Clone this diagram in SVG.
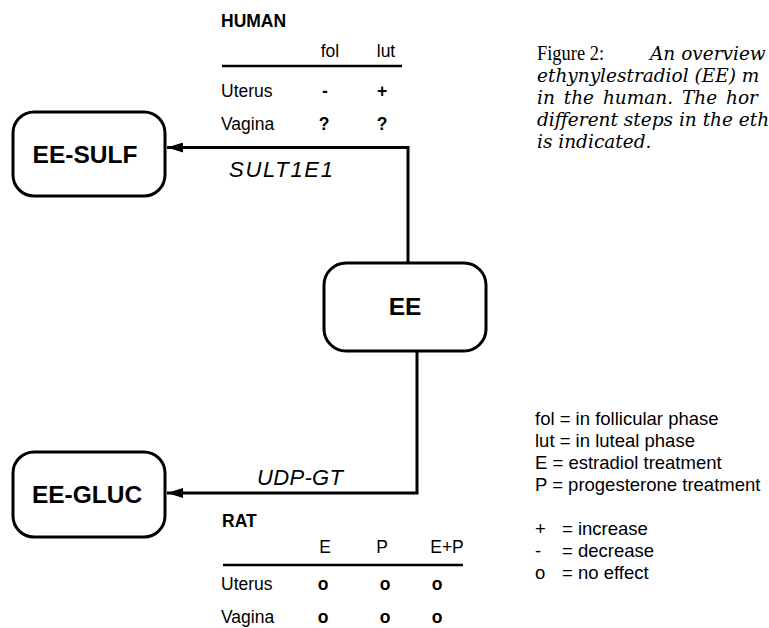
<svg xmlns="http://www.w3.org/2000/svg" width="769" height="628" viewBox="0 0 769 628">
<style>
.box{fill:#fff;stroke:#000;stroke-width:3}
.nl{font-family:"Liberation Sans",Arial,sans-serif;font-weight:bold;font-size:24.5px;text-anchor:middle}
.con{fill:none;stroke:#000;stroke-width:3}
.el{font-family:"Liberation Sans",Arial,sans-serif;font-style:italic;font-size:22px}
.t{font-family:"Liberation Sans",Arial,sans-serif;font-size:17.5px}
.tb{font-family:"Liberation Sans",Arial,sans-serif;font-size:17.5px;font-weight:bold}
.c{text-anchor:middle}
.cap{font-family:"DejaVu Serif","Liberation Serif",serif;font-size:18.5px;font-style:italic}
.capr{font-family:"Liberation Serif",serif;font-size:20px;font-style:normal}
.lg{font-family:"Liberation Sans",Arial,sans-serif;font-size:18.5px}
</style>
<defs>
<marker id="ah" markerUnits="userSpaceOnUse" markerWidth="17" markerHeight="10" refX="16" refY="5" orient="auto">
<path d="M0,0 L16,5 L0,10 Z" fill="#000"/>
</marker>
</defs>
<rect width="769" height="628" fill="#fff"/>
<g id="connectors">
<polyline class="con" points="408,263 408,147.5 167,147.5" marker-end="url(#ah)"/>
<polyline class="con" points="417,351 417,493 167,493" marker-end="url(#ah)"/>
<text class="el" x="229" y="177" textLength="104" lengthAdjust="spacing">SULT1E1</text>
<text class="el" x="257" y="485" textLength="86" lengthAdjust="spacing">UDP-GT</text>
</g>
<g id="ee-sulf">
<rect class="box" x="13" y="112" width="152" height="84" rx="21"/>
<text class="nl" x="85" y="163">EE-SULF</text>
</g>
<g id="ee">
<rect class="box" x="324" y="263" width="162" height="88" rx="22"/>
<text class="nl" x="405" y="315">EE</text>
</g>
<g id="ee-gluc">
<rect class="box" x="13" y="452" width="152" height="85" rx="21"/>
<text class="nl" x="87" y="503">EE-GLUC</text>
</g>
<g id="human-table">
<text class="tb" x="221" y="27">HUMAN</text>
<text class="t c" x="330" y="57">fol</text>
<text class="t c" x="386" y="57">lut</text>
<line x1="222" y1="66" x2="402" y2="66" stroke="#000" stroke-width="2.5"/>
<text class="t" x="221" y="97">Uterus</text>
<text class="tb c" x="325" y="97">-</text>
<text class="tb c" x="382" y="97">+</text>
<text class="t" x="221" y="130">Vagina</text>
<text class="tb c" x="324" y="130">?</text>
<text class="tb c" x="382" y="130">?</text>
</g>
<g id="rat-table">
<text class="tb" x="222" y="527">RAT</text>
<text class="t c" x="325" y="553">E</text>
<text class="t c" x="382" y="553">P</text>
<text class="t c" x="447" y="553">E+P</text>
<line x1="223" y1="565" x2="463" y2="565" stroke="#000" stroke-width="2.5"/>
<text class="t" x="221" y="590">Uterus</text>
<text class="tb c" x="323" y="590">o</text>
<text class="tb c" x="385" y="590">o</text>
<text class="tb c" x="437" y="590">o</text>
<text class="t" x="221" y="623">Vagina</text>
<text class="tb c" x="323" y="623">o</text>
<text class="tb c" x="385" y="623">o</text>
<text class="tb c" x="437" y="623">o</text>
</g>
<g id="caption">
<text class="cap" x="537" y="60"><tspan class="capr" textLength="67" lengthAdjust="spacingAndGlyphs">Figure 2:</tspan><tspan x="650">An overview</tspan></text>
<text class="cap" x="537" y="82">ethynylestradiol (EE) m</text>
<text class="cap" x="537" y="104" word-spacing="3">in the human. The hor</text>
<text class="cap" x="537" y="126">different steps in the eth</text>
<text class="cap" x="537" y="148">is indicated.</text>
</g>
<g id="legend">
<text class="lg" x="535" y="425">fol = in follicular phase</text>
<text class="lg" x="535" y="447">lut = in luteal phase</text>
<text class="lg" x="535" y="469">E = estradiol treatment</text>
<text class="lg" x="535" y="491">P = progesterone treatment</text>
<text class="lg" x="535" y="535">+</text><text class="lg" x="562" y="535">= increase</text>
<text class="lg" x="535" y="557">-</text><text class="lg" x="562" y="557">= decrease</text>
<text class="lg" x="535" y="579">o</text><text class="lg" x="562" y="579">= no effect</text>
</g>
</svg>
